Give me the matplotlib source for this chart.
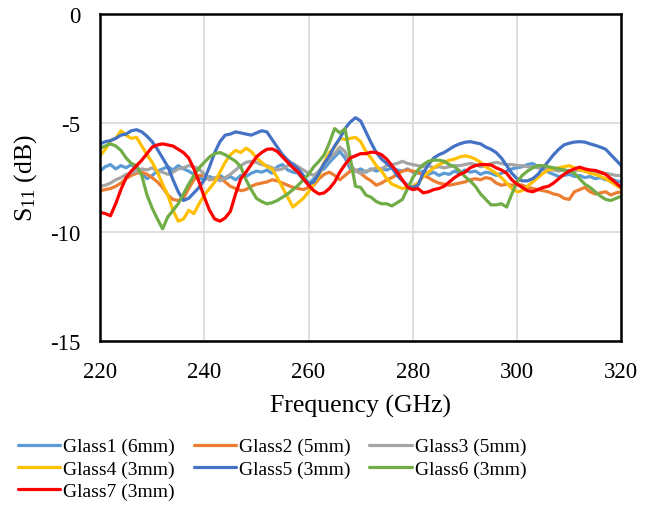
#!/usr/bin/env python3
"""
plot.py
S11 glass samples, 220-320 GHz. Saves out.png
"""

import numpy as np
import matplotlib
matplotlib.use("Agg")
import matplotlib.pyplot as plt

# frequency grid, 1 GHz step
freq_ghz = np.arange(220, 321)

labels = [
    "Glass1 (6mm)", "Glass2 (5mm)", "Glass3 (5mm)",
    "Glass4 (3mm)", "Glass5 (3mm)", "Glass6 (3mm)",
    "Glass7 (3mm)",
]

# S11 values in dB, one value per GHz
glass1 = [
    -7.2, -7.0, -6.9, -7.1, -6.95, -7.05, -6.9, -7.1, -7.3, -7.55,
    -7.4, -7.2, -7.1, -7.0, -7.15, -6.95, -7.1, -7.2, -7.35, -7.5,
    -7.6, -7.45, -7.55, -7.4, -7.55, -7.45, -7.6, -7.4, -7.45, -7.3,
    -7.2, -7.25, -7.15, -7.3, -7.0, -6.9, -7.15, -7.25, -7.3, -7.6,
    -7.8, -7.55, -7.2, -7.1, -6.8, -6.55, -6.3, -6.6, -7.1, -7.2,
    -7.1, -7.25, -7.1, -7.2, -7.1, -7.15, -7.05, -7.15, -7.2, -7.1,
    -7.25, -7.3, -7.2, -7.35, -7.25, -7.4, -7.3, -7.35, -7.2, -7.3,
    -7.15, -7.25, -7.2, -7.35, -7.25, -7.3, -7.4, -7.3, -7.2, -7.1,
    -7.05, -7.0, -6.9, -6.85, -7.0, -7.1, -7.25, -7.35, -7.45, -7.4,
    -7.35, -7.45, -7.4, -7.5, -7.45, -7.55, -7.5, -7.6, -7.55, -7.65,
    -7.7,
]
glass2 = [
    -8.1, -8.05, -8.0, -7.9, -7.75, -7.55, -7.4, -7.3, -7.25, -7.35,
    -7.5, -7.7, -7.95, -8.3, -8.5, -8.55, -8.45, -8.0, -7.6, -7.4,
    -7.4, -7.6, -7.55, -7.5, -7.7, -7.9, -8.0, -8.1, -8.05, -7.9,
    -7.8, -7.75, -7.7, -7.6, -7.65, -7.75, -7.85, -7.95, -8.0, -8.05,
    -7.95, -7.85, -7.55, -7.35, -7.25, -7.4, -7.6, -7.4, -7.2, -7.15,
    -7.3, -7.5, -7.65, -7.85, -7.75, -7.6, -7.5, -7.35, -7.2, -7.15,
    -7.2, -7.25, -7.4, -7.5, -7.65, -7.75, -7.8, -7.85, -7.8, -7.75,
    -7.7, -7.6, -7.55, -7.6, -7.5, -7.55, -7.75, -7.85, -7.8, -7.85,
    -7.8, -7.85, -7.95, -8.0, -8.05, -8.1, -8.15, -8.25, -8.3, -8.45,
    -8.5, -8.15, -8.05, -7.95, -8.15, -8.25, -8.2, -8.15, -8.3, -8.2,
    -8.15,
]
glass3 = [
    -7.9, -7.85, -7.75, -7.6, -7.5, -7.35, -7.3, -7.2, -7.1, -7.15,
    -7.05, -7.2, -7.25, -7.35, -7.25, -7.1, -7.05, -6.95, -7.0, -7.1,
    -7.35, -7.6, -7.5, -7.65, -7.5, -7.35, -7.15, -6.95, -6.8, -6.75,
    -6.8, -6.9, -6.95, -7.05, -7.15, -7.1, -6.95, -6.85, -7.0, -7.15,
    -7.3, -7.4, -7.2, -6.85, -6.6, -6.4, -6.1, -6.3, -6.9, -7.2,
    -7.3, -7.2, -7.15, -7.05, -7.1, -6.95, -6.9, -6.85, -6.75, -6.85,
    -6.9, -6.95, -7.0, -6.95, -7.05, -7.0, -7.05, -7.0, -6.95, -6.95,
    -6.9, -6.85, -6.9, -7.0, -6.95, -6.85, -6.8, -6.85, -6.9, -6.9,
    -6.95, -6.95, -7.0, -7.0, -7.05, -7.1, -7.1, -7.15, -7.2, -7.15,
    -7.2, -7.2, -7.15, -7.2, -7.25, -7.25, -7.3, -7.3, -7.35, -7.4,
    -7.4,
]
glass4 = [
    -6.5, -6.2, -5.8, -5.7, -5.35, -5.55, -5.7, -5.65, -6.05, -6.45,
    -6.8, -7.25, -7.8, -8.3, -9.0, -9.5, -9.4, -9.0, -9.15, -8.7,
    -8.3, -8.0, -7.7, -7.25, -6.8, -6.45, -6.25, -6.35, -6.15, -6.3,
    -6.6, -6.8, -7.0, -7.1, -7.5, -7.95, -8.4, -8.85, -8.65, -8.45,
    -8.15, -7.8, -7.4, -6.8, -6.35, -6.1, -5.7, -5.75, -5.7, -5.65,
    -5.85, -6.3, -6.6, -6.95, -7.2, -7.55, -7.8, -7.9, -8.0, -7.95,
    -7.9, -7.75, -7.45, -7.25, -7.05, -6.9, -6.8, -6.7, -6.65, -6.55,
    -6.5, -6.55, -6.65, -6.8, -7.0, -7.15, -7.3, -7.5, -7.75, -8.0,
    -8.15, -8.1, -7.9, -7.7, -7.5, -7.3, -7.15, -7.1, -7.05, -7.0,
    -6.95, -7.05, -7.15, -7.2, -7.3, -7.35, -7.45, -7.55, -7.7, -7.85,
    -8.0,
]
glass5 = [
    -5.95, -5.85, -5.8, -5.7, -5.55, -5.5, -5.35, -5.3, -5.4, -5.6,
    -5.85, -6.2, -6.6, -7.0, -7.6, -8.15, -8.55, -8.45, -8.2, -7.95,
    -7.6, -7.0, -6.35, -5.85, -5.55, -5.5, -5.4, -5.45, -5.5, -5.55,
    -5.45, -5.35, -5.4, -5.75, -6.1, -6.45, -6.7, -6.9, -7.1, -7.4,
    -7.8, -7.7, -7.3, -6.85, -6.5, -6.05, -5.7, -5.25, -4.95, -4.75,
    -4.9, -5.4, -5.9, -6.35, -6.65, -6.85, -7.05, -7.4, -7.65, -7.85,
    -7.95, -7.85, -7.3, -6.9, -6.6, -6.45, -6.35, -6.2, -6.05, -5.95,
    -5.88, -5.85, -5.9, -5.95, -6.1, -6.2, -6.35, -6.6, -6.95, -7.3,
    -7.55, -7.65, -7.65, -7.55, -7.35, -7.05, -6.75, -6.45, -6.2, -6.0,
    -5.92, -5.87, -5.85, -5.87, -5.95, -6.02, -6.1, -6.2, -6.45, -6.7,
    -6.95,
]
glass6 = [
    -6.15, -6.05, -5.95, -6.05, -6.25, -6.6, -6.85, -6.95, -7.4, -8.3,
    -8.9, -9.4, -9.85, -9.3, -9.0, -8.7, -8.25, -7.8, -7.4, -7.05,
    -6.8, -6.55, -6.4, -6.35, -6.45, -6.6, -6.75, -7.0, -7.6, -8.05,
    -8.45, -8.6, -8.7, -8.65, -8.55, -8.4, -8.25, -8.05, -7.85, -7.6,
    -7.35, -7.0, -6.75, -6.45, -5.9, -5.25, -5.45, -5.25, -6.6, -7.9,
    -7.95, -8.3, -8.4, -8.6, -8.7, -8.7, -8.8, -8.65, -8.5, -8.0,
    -7.5, -7.15, -6.9, -6.75, -6.7, -6.7, -6.75, -6.9, -7.0, -7.2,
    -7.45, -7.65, -7.9, -8.25, -8.5, -8.75, -8.75, -8.7, -8.85, -8.25,
    -7.7, -7.4, -7.2, -7.05, -6.95, -6.95, -7.0, -7.05, -7.1, -7.15,
    -7.2, -7.3, -7.55, -7.8, -7.95, -8.15, -8.35, -8.5, -8.55, -8.45,
    -8.35,
]
glass7 = [
    -9.1, -9.15, -9.25, -8.7, -8.05, -7.5, -7.2, -6.95, -6.7, -6.4,
    -6.1, -6.0, -5.95, -6.0, -6.05, -6.2, -6.35, -6.6, -7.1, -7.7,
    -8.4, -9.0, -9.4, -9.5, -9.35, -9.05, -8.25, -7.55, -7.25, -6.9,
    -6.55, -6.35, -6.2, -6.18, -6.3, -6.55, -6.8, -7.05, -7.25, -7.55,
    -7.85, -8.1, -8.25, -8.2, -8.0, -7.7, -7.25, -6.9, -6.6, -6.5,
    -6.4, -6.4, -6.33, -6.35, -6.45, -6.65, -6.95, -7.25, -7.6, -7.95,
    -8.05, -8.0, -8.2, -8.15, -8.05, -8.0, -7.9, -7.7, -7.5, -7.35,
    -7.25, -7.05, -6.95, -6.9, -6.9, -6.92, -7.05, -7.15, -7.3, -7.6,
    -7.8, -7.95, -8.1, -8.15, -8.05, -7.95, -7.9, -7.75, -7.55, -7.35,
    -7.2, -7.1, -7.02, -7.1, -7.15, -7.17, -7.25, -7.35, -7.55, -7.75,
    -7.95,
]

# Excel office palette
colors = ["#5B9BD5", "#ED7D31", "#A5A5A5", "#FFC000",
          "#4472C4", "#70AD47", "#FF0000"]


def main():
    plt.rcParams["font.family"] = ["Liberation Serif", "DejaVu Serif"]
    plt.rcParams["mathtext.fontset"] = "custom"
    plt.rcParams["mathtext.rm"] = "Liberation Serif"
    plt.rcParams["mathtext.it"] = "Liberation Serif:italic"
    plt.rcParams["axes.unicode_minus"] = False

    fig = plt.figure(figsize=(6.54, 5.06), dpi=100)
    ax = fig.add_axes([0.153, 0.324, 0.797, 0.646])

    series = [glass1, glass2, glass3, glass4, glass5, glass6, glass7]
    lines = []
    for vals, col, lab in zip(series, colors, labels):
        ln, = ax.plot(freq_ghz, vals, color=col, lw=2.3, label=lab,
                      solid_capstyle="round")
        lines.append(ln)

    ax.set_xlim(220, 320)
    ax.set_ylim(-15, 0)
    ax.set_xticks(np.arange(220, 321, 20))
    ax.set_yticks([-15, -10, -5, 0])
    ax.grid(True, color="#D9D9D9", lw=1.2)
    ax.set_axisbelow(True)
    for sp in ax.spines.values():
        sp.set_color("black")
        sp.set_linewidth(1.8)
    ax.tick_params(length=0, labelsize=16.5)
    ax.tick_params(axis="x", pad=14)
    ax.tick_params(axis="y", pad=14)

    ax.set_xlabel("Frequency (GHz)", fontsize=18.5, labelpad=9)
    ax.set_ylabel("S$_{11}$ (dB)", fontsize=18.5, labelpad=8)

    # matplotlib fills legend columns first, so reorder to get rows
    order = [0, 3, 6, 1, 4, 2, 5]
    fig.legend([lines[i] for i in order], [labels[i] for i in order],
               loc="upper left", bbox_to_anchor=(0.027, 0.133), ncol=3,
               frameon=False, fontsize=14, handlelength=2.2,
               handletextpad=0.15, columnspacing=0.95, labelspacing=0.23,
               borderaxespad=0, borderpad=0)

    fig.savefig("out.png", dpi=100)
    plt.close(fig)


if __name__ == "__main__":
    main()
